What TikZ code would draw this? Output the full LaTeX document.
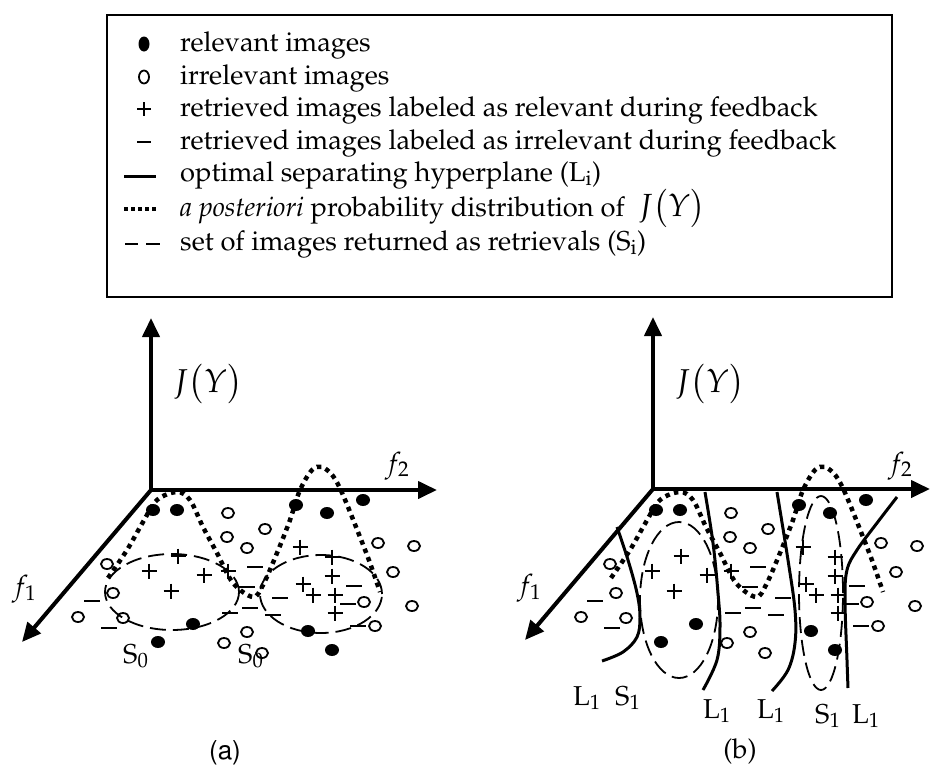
\documentclass[tikz,border=0pt]{standalone}
\usepackage[T1]{fontenc}
\usepackage{mathpazo}
\usetikzlibrary{arrows.meta}
\newcommand{\relpts}{153/510,177/510,296/505,327/513,363/500,193/624,158/642,308/631,332/650}
\newcommand{\irrpts}{228/513,265/529,227/537,247/548,378/543,414/546,107/564,393/572,113/593,364/602,412/606,78/617,123/618,375/626,247/632,224/643,262/653}
\newcommand{\pluspts}{178/556,149/571,204/575,171/591,228/571,300/547,332/557,332/576,303/584,313/595,335/595,335/613}
\newcommand{\minuspts}{255/567,247/587,280/598,354/586,348/604,92/601,109/628,230/613,250/608,273/615,358/626}
\newcommand{\scatterall}{%
  \foreach \px/\py in \relpts {\fill (\px,\py) ellipse [x radius=7pt, y radius=6pt];}
  \foreach \px/\py in \irrpts {\draw[symline] (\px,\py) ellipse [x radius=6pt, y radius=5pt];}
  \foreach \px/\py in \pluspts {\draw[symline] (\px-7.5,\py) -- (\px+7.5,\py) (\px,\py-7.5) -- (\px,\py+7.5);}
  \foreach \px/\py in \minuspts {\draw[symline] (\px-8,\py) -- (\px+8,\py);}
  \draw[dotc] plot[smooth,tension=0.55] coordinates {(108,578) (127,550) (143,522) (157,500) (177,492) (190,500) (203,527) (217,553) (233,583) (253,597) (263,585) (277,553) (290,520) (300,490) (312,470) (322,467) (333,476) (343,495) (360,537) (370,563) (380,592)};
}
\newcommand{\pz}{\fontsize{27.3}{32}\selectfont}
\begin{document}
\begin{tikzpicture}[x=1pt,y=-1pt,
  axarrow/.style={line width=4pt,-{Triangle[length=19pt,width=17pt]}},
  symline/.style={line width=1.8pt},
  dotc/.style={line width=4.5pt,dash pattern=on 4.5pt off 4.5pt},
  dashe/.style={line width=1.8pt,dash pattern=on 16pt off 7pt},
  hyper/.style={line width=3pt},
  lbl/.style={font=\pz,inner sep=0pt,anchor=base west},
  biglbl/.style={font=\fontsize{33}{36}\selectfont,inner sep=0pt,anchor=base west},
  flbl/.style={font=\fontsize{28}{30}\selectfont,inner sep=0pt,anchor=base west}]
\useasboundingbox (0,0) rectangle (930,769);
% legend
\draw[line width=2.5pt] (107,15) rectangle (892,297);
\fill (144,44) ellipse [x radius=5.5pt, y radius=7.5pt];
\draw[symline] (144,77) ellipse [x radius=5pt, y radius=6.5pt];
\draw[symline] (137,109) -- (151,109) (144,102) -- (144,116);
\draw[symline] (137,142) -- (151,142);
\draw[line width=3pt] (124,176) -- (156,176);
\draw[line width=4pt,dash pattern=on 4pt off 3pt] (124,209) -- (157,209);
\draw[line width=2pt] (125,244) -- (138,244) (146,244) -- (160,244);
\node[lbl] (t1) at (180,51) {relevant images};
\node[lbl] (t2) at (180,84) {irrelevant images};
\node[lbl] (t3) at (180,116) {retrieved images labeled as relevant during feedback};
\node[lbl] (t4) at (180,149) {retrieved images labeled as irrelevant during feedback};
\node[lbl] (t5) at (180,181) {optimal separating hyperplane (L\textsubscript{i})};
\node[lbl] (t6) at (180,216) {\textit{a posteriori} probability distribution of\ \ {\fontsize{32}{34}\selectfont$J\bigl(Y\bigr)$}};
\node[lbl] (t7) at (180,250) {set of images returned as retrievals (S\textsubscript{i})};
% panel (a)
\coordinate (oa) at (151,490);
\coordinate (va) at (151,318);
\coordinate (ha) at (437,490);
\coordinate (da) at (22,642);
\draw[axarrow] (oa) -- (va);
\draw[axarrow] (oa) -- (ha);
\draw[axarrow] (oa) -- (da);
\node[biglbl] (jya) at (173,392) {$J\bigl(Y\bigr)$};
\node[flbl] (f2a) at (385,472) {$f_{2}$};
\node[flbl] (f1a) at (12,595) {$f_{1}$};
\scatterall
\draw[dashe] (172,592) ellipse [x radius=67pt, y radius=38pt];
\draw[dashe] (321,594) ellipse [x radius=61pt, y radius=39pt];
\node[lbl] (s0a) at (123,663) {S\textsubscript{0}};
\node[lbl] (s0b) at (238,663) {S\textsubscript{0}};
\node[font=\fontfamily{phv}\fontsize{26}{28}\selectfont,inner sep=0pt] (capa) at (225,753) {(a)};
% panel (b)
\coordinate (ob) at (653,489);
\coordinate (vb) at (653,317);
\coordinate (hb) at (930,489);
\coordinate (db) at (525,640);
\draw[axarrow] (ob) -- (vb);
\draw[axarrow] (ob) -- (hb);
\draw[axarrow] (ob) -- (db);
\node[biglbl] (jyb) at (675,392) {$J\bigl(Y\bigr)$};
\node[flbl] (f2b) at (888,472) {$f_{2}$};
\node[flbl] (f1b) at (517,594) {$f_{1}$};
\begin{scope}[xshift=503pt]
\scatterall
\end{scope}
\draw[dashe] (679,600) ellipse [x radius=39pt, y radius=78pt];
\draw[dashe] (821,593) ellipse [x radius=22pt, y radius=97pt];
\draw[hyper] plot[smooth,tension=0.6] coordinates {(617,527) (628,560) (637,593) (640,617) (637,637) (623,652) (602,661)};
\draw[hyper] plot[smooth,tension=0.6] coordinates {(705,492) (713,543) (718,593) (720,627) (717,660) (703,690)};
\draw[hyper] plot[smooth,tension=0.6] coordinates {(777,492) (788,560) (795,610) (795,643) (788,670) (772,691)};
\draw[hyper] plot[smooth,tension=0.6] coordinates {(897,497) (877,523) (857,550) (847,570) (845,600) (847,660) (848,688)};
\node[lbl] (l1a) at (573,705) {L\textsubscript{1}};
\node[lbl] (s1a) at (615,705) {S\textsubscript{1}};
\node[lbl] (l1b) at (703,718) {L\textsubscript{1}};
\node[lbl] (l1c) at (757,718) {L\textsubscript{1}};
\node[lbl] (s1b) at (815,723) {S\textsubscript{1}};
\node[lbl] (l1d) at (852,723) {L\textsubscript{1}};
\node[font=\pz,inner sep=0pt] (capb) at (740,751) {(b)};
\end{tikzpicture}
\end{document}
